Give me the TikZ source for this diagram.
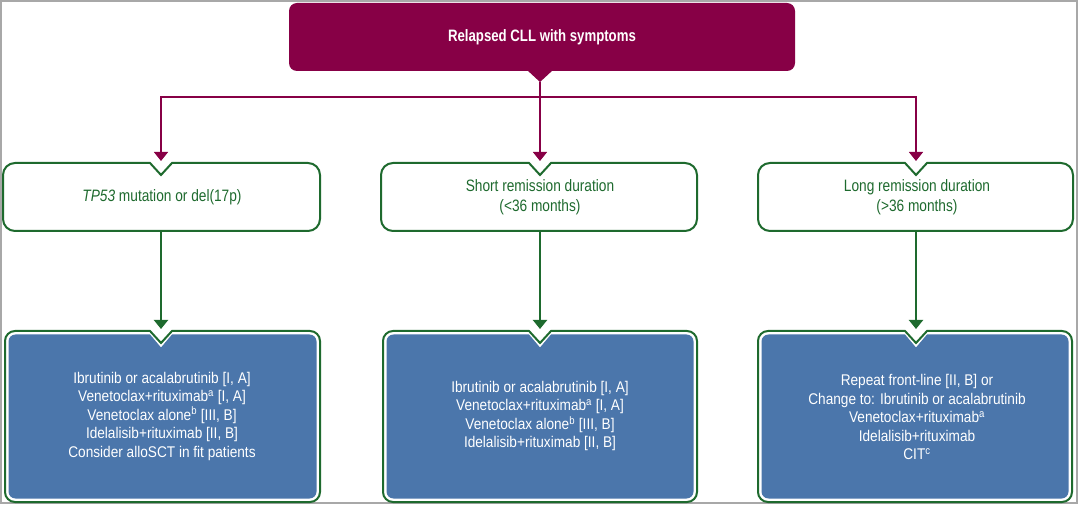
\documentclass[tikz,border=0pt]{standalone}
\usepackage{fontspec}
\setmainfont{Liberation Sans}
\newfontfamily\titlefont[FakeStretch=0.80]{Liberation Sans}
\newfontfamily\midfont[FakeStretch=0.83]{Liberation Sans}
\newfontfamily\botfont[FakeStretch=0.88]{Liberation Sans}
\usetikzlibrary{arrows.meta}
\definecolor{mag}{HTML}{870046}
\definecolor{dgreen}{HTML}{1E6A2E}
\definecolor{bblue}{HTML}{4B76AB}
\definecolor{framegray}{HTML}{A8A8A8}
% x1,y1,x2,y2,cx,radius,notch half width,notch depth
\newcommand\notchpath[8]{(#1+#6,#2) -- (#5-#7,#2) -- (#5,#2+#8) -- (#5+#7,#2) -- (#3-#6,#2) arc[start angle=-90,end angle=0,radius=#6] -- (#3,#4-#6) arc[start angle=0,end angle=90,radius=#6] -- (#1+#6,#4) arc[start angle=90,end angle=180,radius=#6] -- (#1,#2+#6) arc[start angle=180,end angle=270,radius=#6] -- cycle}
\tikzset{
  magline/.style={draw=mag, line width=1.5pt},
  grnline/.style={draw=dgreen, line width=2pt},
  arr/.style={-{Triangle[width=14pt,length=9pt]}},
  midbox/.style={draw=dgreen, line width=2pt, fill=white},
  botouter/.style={draw=dgreen, line width=2pt, fill=white},
  botinner/.style={fill=bblue},
  titletext/.style={text=white, font=\titlefont\bfseries\fontsize{16.5}{18}\selectfont},
  midtext/.style={align=center, text=dgreen, font=\midfont\fontsize{16.5}{20}\selectfont},
  bottext/.style={align=center, text=white, font=\botfont\fontsize{15.5}{18.5}\selectfont}
}
\begin{document}
\begin{tikzpicture}[x=1pt,y=-1pt]
\useasboundingbox (0,0) rectangle (1080,505);
\fill[white] (0,0) rectangle (1080,505);
\draw[framegray, line width=2pt] (1,1) rectangle (1077,503);

% top box
\fill[mag, rounded corners=8pt] (289,3) rectangle (795,71);
\fill[mag] (527,70) -- (553,70) -- (540,82) -- cycle;
\node[titletext] (top) at (542,37) {Relapsed CLL with symptoms};

% middle boxes
\draw[midbox] \notchpath{3}{163}{320}{231}{161}{12}{11}{12};
\draw[midbox] \notchpath{381}{163}{697}{231}{540}{12}{11}{12};
\draw[midbox] \notchpath{758}{163}{1073}{231}{916}{12}{11}{12};
\node[midtext] (m1) at (162,197) {\textit{TP53} mutation or del(17p)};
\node[midtext] (m2) at (540,197) {Short remission duration\\(<36 months)};
\node[midtext] (m3) at (917,197) {Long remission duration\\(>36 months)};

% bottom boxes
\draw[botouter] \notchpath{5}{331}{320}{502}{161}{10}{11}{12};
\fill[botinner] \notchpath{8.5}{334.5}{316.5}{498.5}{161}{7}{11}{13};
\draw[botouter] \notchpath{383}{331}{697}{502}{540}{10}{11}{12};
\fill[botinner] \notchpath{386.5}{334.5}{693.5}{498.5}{540}{7}{11}{13};
\draw[botouter] \notchpath{758}{331}{1072}{502}{916}{10}{11}{12};
\fill[botinner] \notchpath{761.5}{334.5}{1068.5}{498.5}{916}{7}{11}{13};

\node[bottext] (b1) at (162,416) {Ibrutinib or acalabrutinib [I, A]\\Venetoclax+rituximab\textsuperscript{a} [I, A]\\Venetoclax alone\textsuperscript{b} [III, B]\\Idelalisib+rituximab [II, B]\\Consider alloSCT in fit patients};
\node[bottext] (b2) at (540,416) {Ibrutinib or acalabrutinib [I, A]\\Venetoclax+rituximab\textsuperscript{a} [I, A]\\Venetoclax alone\textsuperscript{b} [III, B]\\Idelalisib+rituximab [II, B]};
\node[bottext] (b3) at (917,417) {Repeat front-line [II, B] or\\Change to: Ibrutinib or acalabrutinib\\Venetoclax+rituximab\textsuperscript{a}\\Idelalisib+rituximab\\CIT\textsuperscript{c}};

% connector coordinates
\coordinate (tt) at (540,82);
\coordinate (h1) at (161,97);
\coordinate (h3) at (916,97);
\coordinate (n1) at (161,161);
\coordinate (n2) at (540,161);
\coordinate (n3) at (916,161);
\coordinate (mb1) at (161,231);
\coordinate (mb2) at (540,231);
\coordinate (mb3) at (916,231);
\coordinate (k1) at (161,329);
\coordinate (k2) at (540,329);
\coordinate (k3) at (916,329);

\draw[magline, line cap=rect] (h1) -- (h3);
\draw[magline, arr] (tt) -- (n2);
\draw[magline, arr] (h1) -- (n1);
\draw[magline, arr] (h3) -- (n3);
\draw[grnline, arr] (mb1) -- (k1);
\draw[grnline, arr] (mb2) -- (k2);
\draw[grnline, arr] (mb3) -- (k3);
\end{tikzpicture}
\end{document}
